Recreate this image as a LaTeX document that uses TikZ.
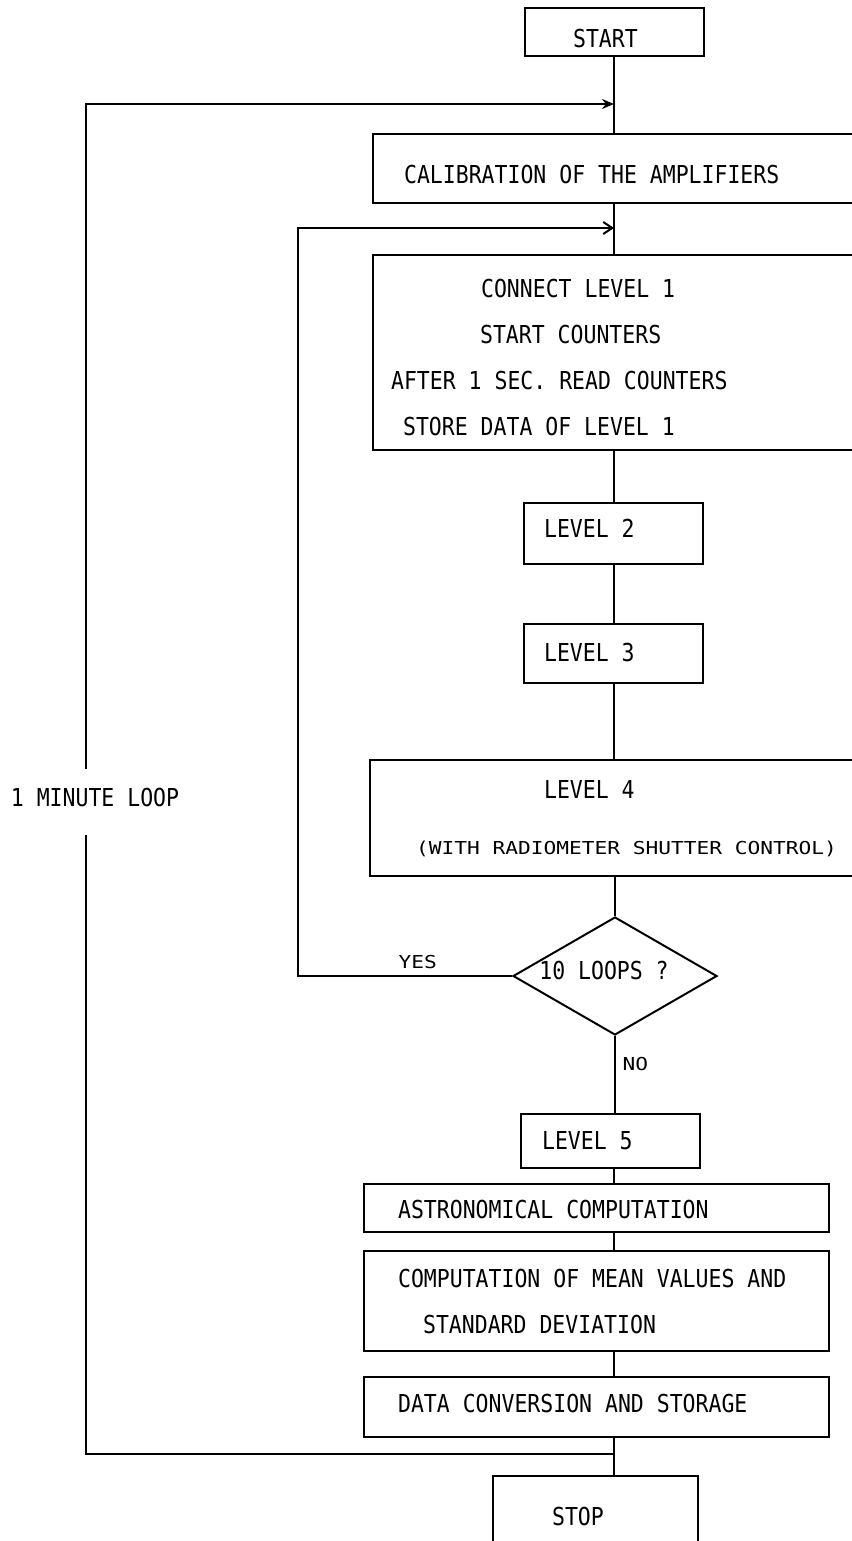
\documentclass[tikz,border=0pt]{standalone}
\usepackage{fontspec}
\usetikzlibrary{shapes.geometric,arrows.meta}
\newfontfamily\plotfont[FakeStretch=0.87]{DejaVu Sans Mono}
\newfontfamily\plotsmall[FakeStretch=1.19]{DejaVu Sans Mono}
\newcommand{\bigtype}{\plotfont\fontsize{12.35}{23}\selectfont}
\newcommand{\smalltype}{\plotsmall\fontsize{8.9}{23}\selectfont}

\begin{document}
\begin{tikzpicture}[x=0.5pt,y=-0.5pt,
  box/.style={draw,line width=1.1pt,anchor=north west,align=flush left,inner ysep=0pt,font=\bigtype},
  line/.style={line width=1pt},
  flag/.style={font=\smalltype}]
\useasboundingbox (0,0) rectangle (851,1541);
\coordinate (axis) at (614,0);
% boxes, top to bottom
\node[box,minimum width=89.5pt,minimum height=24pt,inner xsep=24pt,text width=41.5pt,text height=15.5pt,text depth=0pt] (start) at (524,7) {START};
\node[box,minimum width=264pt,minimum height=34.5pt,inner xsep=15.5pt,text width=233pt,text height=14.5pt,text depth=0pt] (calib) at (372,133) {CALIBRATION OF THE AMPLIFIERS};
\node[box,minimum width=264pt,minimum height=97.5pt,inner xsep=9pt,text width=246pt,text height=13.5pt,text depth=69pt] (connect) at (372,254)
  {\hspace*{45pt}CONNECT LEVEL 1\\ \hspace*{44.5pt}START COUNTERS\\ AFTER 1 SEC. READ COUNTERS\\ \hspace*{6pt}STORE DATA OF LEVEL 1};
\node[box,minimum width=89.5pt,minimum height=30.5pt,inner xsep=10pt,text width=69.5pt,text height=9pt,text depth=5.5pt] (level2) at (523,502) {LEVEL 2};
\node[box,minimum width=89.5pt,minimum height=29.5pt,inner xsep=10pt,text width=69.5pt,text height=9pt,text depth=1.5pt] (level3) at (523,623) {LEVEL 3};
\node[box,minimum width=265.5pt,minimum height=58pt,inner xsep=23pt,text width=219.5pt,text height=9pt,text depth=29pt] (level4) at (369,759)
  {\hspace*{64pt}LEVEL 4\\[5.25pt] {\smalltype (WITH RADIOMETER SHUTTER CONTROL)}};
\node[draw,line width=1pt,diamond,aspect=2,inner xsep=-4pt,inner ysep=0pt,minimum width=102pt,minimum height=59pt,font=\bigtype,text height=9pt,text depth=5.5pt] (loops) at (615,976) {10 LOOPS ?\hspace*{11pt}};
\node[box,minimum width=89.5pt,minimum height=27pt,inner xsep=10.5pt,text width=68.5pt,text height=9pt,text depth=1pt] (level5) at (520,1113) {LEVEL 5};
\node[box,minimum width=232.5pt,minimum height=24pt,inner xsep=17pt,text width=198.5pt,text height=10pt,text depth=0pt] (astro) at (363,1183) {ASTRONOMICAL COMPUTATION};
\node[box,minimum width=232.5pt,minimum height=50pt,inner xsep=17pt,text width=198.5pt,text height=9pt,text depth=23pt] (mean) at (363,1250)
  {COMPUTATION OF MEAN VALUES AND\\ \hspace*{12.5pt}STANDARD DEVIATION};
\node[box,minimum width=232.5pt,minimum height=30pt,inner xsep=17pt,text width=198.5pt,text height=9pt,text depth=4pt] (store) at (363,1376) {DATA CONVERSION AND STORAGE};
\node[box,minimum width=102.5pt,minimum height=42.5pt,inner xsep=29.5pt,text width=43.5pt,text height=9pt,text depth=2.5pt] (stop) at (492,1475) {STOP};
\node[font=\bigtype,inner sep=0pt,minimum height=32.5pt,text height=9pt,text depth=5pt] (oneminute) at (95,802) {1 MINUTE LOOP};
% main flow
\foreach \a/\b in {start/calib,calib/connect,connect/level2,level2/level3,level3/level4,level5/astro,astro/mean,mean/store,store/stop}
  \draw[line] (\a.south -| axis) -- (\b.north -| axis);
\draw[line] (level4.south -| loops) -- (loops.north);
\draw[line] (loops.south) -- node[flag,right,pos=0.36] {NO} (level5.north -| loops.south);
% inner loop (10 x)
\coordinate (innerhigh) at (298,228);
\draw[line,-{Straight Barb[length=4.5pt,width=6pt]}] (loops.west) -- node[flag,above,pos=0.44] {YES} (loops.west -| innerhigh) -- (innerhigh) -- (innerhigh -| axis);
% outer loop (1 minute)
\coordinate (outerlow) at (86,1454);
\coordinate (outerhigh) at (86,104);
\draw[line] (axis |- outerlow) -- (outerlow) -- (outerlow |- oneminute.south);
\draw[line,-{Stealth[length=6pt,width=5pt]}] (outerlow |- oneminute.north) -- (outerhigh) -- (outerhigh -| axis);
\end{tikzpicture}
\end{document}
